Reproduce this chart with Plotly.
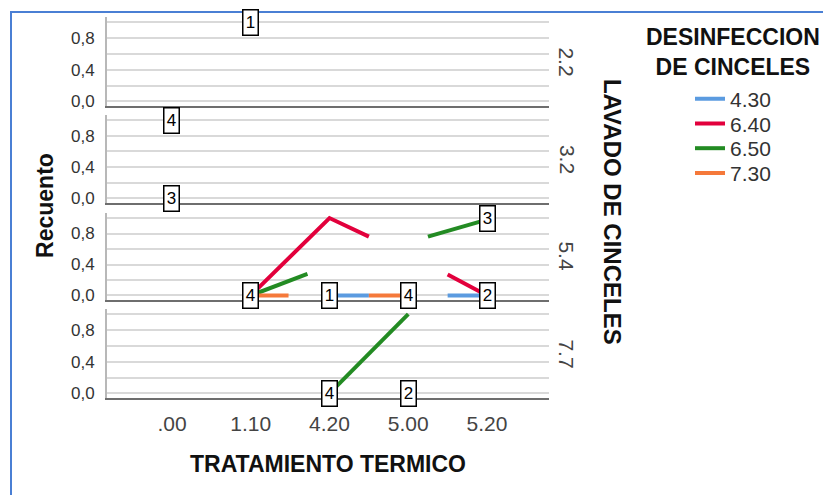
import plotly.graph_objects as go

# ---- data ----
categories = [".00", "1.10", "4.20", "5.00", "5.20"]
panels = ["2.2", "3.2", "5.4", "7.7"]
series_names = ["4.30", "6.40", "6.50", "7.30"]
series_colors = ["#5B9BE0", "#E2003C", "#238B23", "#F5793A"]

# visible line pieces (x = category position, y = count) in panel "5.4"
blue_54_x = [2, 2.5, None, 3.5, 4]
blue_54_y = [0, 0, None, 0, 0]
red_54_x = [1, 2, 2.5, None, 3.5, 4]
red_54_y = [0, 1.0, 0.76, None, 0.27, 0]
green_54_x = [1, 1.72, None, 3.25, 4]
green_54_y = [0, 0.28, None, 0.76, 0.98]
orange_54_x = [1, 1.48, None, 2.5, 3]
orange_54_y = [0, 0, None, 0, 0]
# panel "7.7"
green_77_x = [2, 3]
green_77_y = [0, 1.0]

# boxed count labels: panel, category position, value, text
label_panel = ["2.2", "3.2", "3.2", "5.4", "5.4", "5.4", "5.4", "5.4", "7.7", "7.7"]
label_x = [1, 0, 0, 1, 2, 3, 4, 4, 2, 3]
label_y = [1.0, 1.0, 0, 0, 0, 0, 0, 1.0, 0, 0]
label_text = ["1", "4", "3", "4", "1", "4", "2", "3", "4", "2"]

ytick_vals = [0, 0.2, 0.4, 0.6, 0.8, 1.0]
ytick_text = ["0,0", "", "0,4", "", "0,8", ""]

# the page body adds an 8px margin, so the figure is 8px smaller and shifted
OFF = 8
W, H = 831 - OFF, 495 - OFF
FONT = "Liberation Sans, Arial, sans-serif"

def px_y(p):
    return 1 - (p - OFF) / H

def px_x(p):
    return (p - OFF) / W

panel_px = [(17, 107), (116, 205), (215, 303), (312, 402)]
xdom = [px_x(107), px_x(549)]
xrange_ = [-0.825, 4.787]
yrange_ = [-0.058, 1.067]

fig = go.Figure()
axis_id = {p: i + 1 for i, p in enumerate(panels)}
legend_ids = ["legend", "legend2", "legend3", "legend4"]

def ax(i, kind):
    return kind if i == 1 else f"{kind}{i}"

def add_line(panel, xs, ys, si, show):
    i = axis_id[panel]
    fig.add_trace(go.Scatter(
        x=xs, y=ys, mode="lines", name=series_names[si],
        line=dict(color=series_colors[si], width=4),
        xaxis=ax(i, "x"), yaxis=ax(i, "y"), showlegend=show,
        legend=legend_ids[si], connectgaps=False, hoverinfo="skip"))

add_line("5.4", blue_54_x, blue_54_y, 0, True)
add_line("5.4", red_54_x, red_54_y, 1, True)
add_line("5.4", green_54_x, green_54_y, 2, True)
add_line("5.4", orange_54_x, orange_54_y, 3, True)
add_line("7.7", green_77_x, green_77_y, 2, False)

layout = dict(
    width=W, height=H, margin=dict(l=0, r=0, t=0, b=0),
    paper_bgcolor="white", plot_bgcolor="white",
    font=dict(family=FONT, color="#333333"),
)
for i, p in enumerate(panels, start=1):
    top, bot = panel_px[i - 1]
    last = (i == len(panels))
    layout["xaxis" if i == 1 else f"xaxis{i}"] = dict(
        domain=xdom, range=xrange_, anchor=ax(i, "y"),
        tickvals=list(range(len(categories))), ticktext=categories,
        showticklabels=last, showgrid=False, zeroline=False,
        showline=True, linecolor="#6E6E6E", linewidth=2, ticks="",
        tickfont=dict(size=21, color="#444444"), ticklabelstandoff=6,
    )
    layout["yaxis" if i == 1 else f"yaxis{i}"] = dict(
        domain=[px_y(bot), px_y(top)], range=yrange_, anchor=ax(i, "x"),
        tickvals=ytick_vals, ticktext=ytick_text, ticks="",
        showgrid=True, gridcolor="#D9D9D9", gridwidth=2, zeroline=False,
        showline=True, linecolor="#B8B8B8", linewidth=2,
        tickfont=dict(size=17, color="#333333"), ticklabelstandoff=7,
    )
# one legend per entry so the spacing matches the reference
legend_centers = [100, 125, 150, 175]
for lid, cy in zip(legend_ids, legend_centers):
    layout[lid] = dict(
        x=px_x(690), y=px_y(cy), xanchor="left", yanchor="middle",
        font=dict(size=21, color="#333333", family=FONT),
        bgcolor="rgba(0,0,0,0)", borderwidth=0, itemwidth=30)
fig.update_layout(**layout)

annotations = []
# count label boxes
for pnl, xv, yv, t in zip(label_panel, label_x, label_y, label_text):
    i = axis_id[pnl]
    annotations.append(dict(
        x=xv, y=yv, xref=ax(i, "x"), yref=ax(i, "y"), text=t, showarrow=False,
        font=dict(size=17, color="black", family=FONT), bgcolor="white",
        bordercolor="black", borderwidth=1.5, borderpad=1, width=12, height=22,
        xanchor="center", yanchor="middle"))
# panel labels (right side)
for i, p in enumerate(panels):
    top, bot = panel_px[i]
    annotations.append(dict(
        x=px_x(567), y=px_y((top + bot) / 2), xref="paper", yref="paper",
        text=p, textangle=90, showarrow=False,
        font=dict(size=21, color="#444444", family=FONT),
        xanchor="center", yanchor="middle"))
# titles
annotations.append(dict(x=px_x(612), y=px_y(214), xref="paper", yref="paper",
                        text="<b>LAVADO DE CINCELES</b>", textangle=90, showarrow=False,
                        font=dict(size=24, color="#111111", family=FONT),
                        xanchor="center", yanchor="middle"))
annotations.append(dict(x=px_x(45), y=px_y(208), xref="paper", yref="paper",
                        text="<b>Recuento</b>", textangle=-90, showarrow=False,
                        font=dict(size=23, color="#111111", family=FONT),
                        xanchor="center", yanchor="middle"))
annotations.append(dict(x=px_x(328), y=px_y(469), xref="paper", yref="paper",
                        text="<b>TRATAMIENTO TERMICO</b>", showarrow=False,
                        font=dict(size=23, color="#111111", family=FONT),
                        xanchor="center", yanchor="middle"))
annotations.append(dict(x=px_x(733), y=px_y(52), xref="paper", yref="paper",
                        text="<b>DESINFECCION<br>DE CINCELES</b>", showarrow=False,
                        font=dict(size=23, color="#111111", family=FONT),
                        xanchor="center", yanchor="middle", align="center"))
fig.update_layout(annotations=annotations)

# blue frame around chart
fig.add_shape(type="rect", xref="paper", yref="paper",
              x0=px_x(11), x1=1.05, y0=-0.05, y1=px_y(12),
              line=dict(color="#4A7FD4", width=2), fillcolor="rgba(0,0,0,0)",
              layer="above")

fig.write_html("out.html")
